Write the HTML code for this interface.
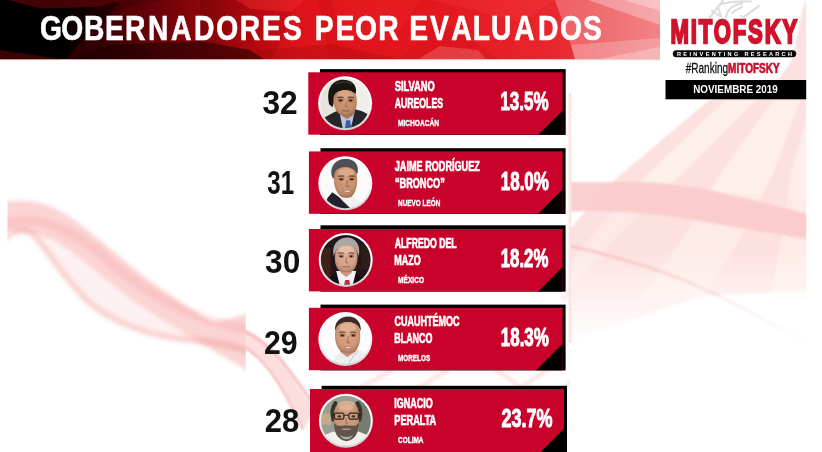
<!DOCTYPE html>
<html lang="es">
<head>
<meta charset="utf-8">
<title>Gobernadores peor evaluados</title>
<style>
html,body{margin:0;padding:0;background:#fff;}
body{width:822px;height:452px;overflow:hidden;position:relative;font-family:"Liberation Sans",sans-serif;}
main.slide{position:absolute;left:0;top:0;width:822px;height:452px;overflow:hidden;background:#fff;}
ol,li{margin:0;padding:0;list-style:none;}
svg{position:absolute;left:0;top:0;display:block;pointer-events:none;}
svg text{opacity:.999;}
text{font-family:"Liberation Sans",sans-serif;font-weight:bold;}
.rg{font-weight:normal;}
</style>
</head>
<body>
<main class="slide">
<svg class="bg" width="822" height="452" viewBox="0 0 822 452">
<defs>
<linearGradient id="bn" x1="0" y1="0" x2="660" y2="0" gradientUnits="userSpaceOnUse">
<stop offset="0.0000" stop-color="#000000"/>
<stop offset="0.0909" stop-color="#020000"/>
<stop offset="0.1515" stop-color="#1c0001"/>
<stop offset="0.2121" stop-color="#3c0104"/>
<stop offset="0.2727" stop-color="#650307"/>
<stop offset="0.3333" stop-color="#90060b"/>
<stop offset="0.3939" stop-color="#b8090f"/>
<stop offset="0.4545" stop-color="#d40e16"/>
<stop offset="0.5303" stop-color="#e0121a"/>
<stop offset="0.6818" stop-color="#e4181f"/>
<stop offset="0.8333" stop-color="#e8262d"/>
<stop offset="0.9091" stop-color="#ea3a40"/>
<stop offset="1.0000" stop-color="#ee585c"/>
</linearGradient>
<radialGradient id="skin" cx="0.5" cy="0.42" r="0.62"><stop offset="0" stop-color="#ffe0c8" stop-opacity="0.28"/><stop offset="0.55" stop-color="#c08060" stop-opacity="0"/><stop offset="1" stop-color="#5a2a18" stop-opacity="0.55"/></radialGradient>
<linearGradient id="ring" x1="0" y1="0" x2="0" y2="1"><stop offset="0" stop-color="#ffffff"/><stop offset="0.6" stop-color="#f4f4f4"/><stop offset="1" stop-color="#cfcfcf"/></linearGradient>
<filter id="b05" x="-10%" y="-10%" width="120%" height="120%"><feGaussianBlur stdDeviation="0.5"/></filter>
<filter id="b09" x="-10%" y="-10%" width="120%" height="120%"><feGaussianBlur stdDeviation="0.65"/></filter>
<filter id="b1" x="-20%" y="-20%" width="140%" height="140%"><feGaussianBlur stdDeviation="1"/></filter>
<filter id="b2" x="-20%" y="-20%" width="140%" height="140%"><feGaussianBlur stdDeviation="2"/></filter>
<filter id="b4" x="-20%" y="-20%" width="140%" height="140%"><feGaussianBlur stdDeviation="4"/></filter>
<clipPath id="c0"><circle cx="345.1" cy="103.3" r="24.9"/></clipPath>
<clipPath id="c1"><circle cx="345.3" cy="183.3" r="24.9"/></clipPath>
<clipPath id="c2"><circle cx="345.7" cy="259.9" r="24.9"/></clipPath>
<clipPath id="c3"><circle cx="345.3" cy="339.1" r="24.9"/></clipPath>
<clipPath id="c4"><circle cx="345.9" cy="420.7" r="24.9"/></clipPath>
</defs>
<g id="bg">
<clipPath id="clL"><rect x="7.5" y="60" width="238.2" height="392"/></clipPath>
<clipPath id="clM"><rect x="245.7" y="60" width="324" height="392"/></clipPath>
<clipPath id="clR"><path d="M569.5,60 H661 V0 H806.2 V452 H569.5 Z"/></clipPath>
<linearGradient id="fadeR" x1="0" y1="250" x2="0" y2="342" gradientUnits="userSpaceOnUse">
<stop offset="0" stop-color="#fff" stop-opacity="0"/><stop offset="1" stop-color="#fff" stop-opacity="1"/>
</linearGradient>
<g clip-path="url(#clL)">
<path d="M0,203 C 25,197 48,201 73,219 C 100,238 130,268 166,292 C 190,308 205,318 214,322 C 225,320 236,317 250,313 L250,372 C 215,352 185,334 150,312 C 120,292 95,270 73,253 C 50,236 30,228 0,233 Z" fill="#ee3a3a" opacity="0.22" filter="url(#b2)"/>
<path d="M30,232 C 50,236 73,253 95,270 C 120,292 150,312 185,334 L 200,341 C 150,338 110,322 85,299 C 65,278 50,255 37,239 Z" fill="#ee3a3a" opacity="0.07" filter="url(#b2)"/>
<path d="M0,226 C 30,212 70,225 110,262 C 150,296 190,320 250,330" fill="none" stroke="#ee3a3a" stroke-width="9" opacity="0.1" filter="url(#b2)"/>
<path d="M0,244 C 18,224 30,230 37,239 C 50,255 65,278 85,299 C 110,322 150,338 200,341 C 220,342 235,346 250,352" fill="none" stroke="#e84848" stroke-width="6.5" opacity="0.2" filter="url(#b2)"/>
</g>
<g clip-path="url(#clM)">
<path d="M240,329 C 256,335 268,345 280,360 C 292,376 302,392 315,410 L 303,430 C 294,410 284,392 274,377 C 264,362 252,352 240,345 Z" fill="#ee3a3a" opacity="0.16" filter="url(#b1)"/>
<path d="M240,329 C 256,335 270,346 283,362 C 295,378 305,392 318,410" fill="none" stroke="#e84848" stroke-width="3" opacity="0.32" filter="url(#b1)"/>
<path d="M240,344 C 252,351 264,362 274,377 C 284,392 294,410 303,430" fill="none" stroke="#e84848" stroke-width="2.5" opacity="0.26" filter="url(#b1)"/>
<path d="M360,388 L392,370 M418,388 L448,370 M496,370 L522,388 M520,388 L556,364" fill="none" stroke="#ee5050" stroke-width="5" opacity="0.13" filter="url(#b1)"/>
<path d="M562,300 L580,280 M560,392 L580,372" fill="none" stroke="#ee5050" stroke-width="5" opacity="0.1" filter="url(#b1)"/>
</g>
<g clip-path="url(#clR)">
<!-- diagonal pink field -->
<path d="M540,352 L540,262 L612,182 L708.5,100.5 L778,80 L792,60 L803,8 L806,0 L830,0 L830,290 L700,296 Z" fill="#f04a4a" opacity="0.16" filter="url(#b1)"/>
<!-- cream strips -->
<polygon points="726,100 756,100 685,170 660,195 627,195 652,170" fill="#fff6ee" opacity="0.7" filter="url(#b1)"/>
<polygon points="774,100 800,100 774,170 762,195 708,195 723,170" fill="#fff6ee" opacity="0.7" filter="url(#b1)"/>
<polygon points="812,100 830,100 830,200 788,200 791.6,170" fill="#fff6ee" opacity="0.6" filter="url(#b1)"/>
<polygon points="660,195 614,240 560,300 540,300 600,226 627,195" fill="#fff6ee" opacity="0.4" filter="url(#b1)"/>
<polygon points="762,195 740,240 700,300 640,300 690,226 708,195" fill="#fff6ee" opacity="0.45" filter="url(#b1)"/>
<polygon points="788,200 830,200 830,300 770,300 784,226" fill="#fff6ee" opacity="0.5" filter="url(#b1)"/>
<!-- horizontal ribbon -->
<path d="M560,182 L640,182 C 670,183 700,188 714,191 C 740,197 775,205 830,220 L830,243 C 790,236 750,230 714,223.6 C 690,219 670,216 655,214.7 C 630,212 600,210 560,212 Z" fill="#fac9c9" opacity="0.88" filter="url(#b1)"/>
<!-- thin lower curve -->
<path d="M560,244 C 600,252 640,264 668,274 C 720,294 770,322 830,356" fill="none" stroke="#ee5050" stroke-width="3" opacity="0.2" filter="url(#b1)"/>
<rect x="560" y="250" width="270" height="130" fill="url(#fadeR)"/>
</g>
<rect x="568.6" y="93" width="2.6" height="250" fill="#fde4e0"/>
</g>

</svg>
<header class="banner">
<svg width="822" height="452" viewBox="0 0 822 452">
<rect x="0" y="0" width="660" height="59.3" fill="url(#bn)"/>
<polygon points="8,0 124,0 98,7 40,8.5" fill="#5a0408" opacity="0.75"/>
<polygon points="0,50 62,59.3 0,59.3" fill="#4a0306" opacity="0.8"/>
<polygon points="120,0 200,0 200,59.3 66,59.3 84,38 104,22" fill="#c00810" opacity="0.16"/>
<polygon points="122,8 165,0 200,0 200,40 150,52 118,30" fill="#ff2020" opacity="0.07"/>
<polygon points="236,0 304,0 292,12 250,9" fill="#ff3a3a" opacity="0.35"/>
<polygon points="272,59.3 300,0 318,0 330,59.3" fill="#ff2a2a" opacity="0.22"/>
<polygon points="160,59.3 330,44 400,59.3" fill="#7a0008" opacity="0.18"/>
<polygon points="330,0 420,0 400,30 345,38" fill="#ff4040" opacity="0.14"/>
<polygon points="400,59.3 440,20 500,59.3" fill="#b00010" opacity="0.12"/>
<polygon points="430,0 555,0 520,22" fill="#ff5a5a" opacity="0.16"/>
<polygon points="555,0 660,0 660,59.3 575,59.3 571,45" fill="#fff" opacity="0.26"/>
<polygon points="588,0 660,0 660,25" fill="#fff" opacity="0.3"/>
<polygon points="624,0 660,0 660,11" fill="#fff" opacity="0.3"/>
<polygon points="571,45 660,38 660,59.3 575,59.3" fill="#fff" opacity="0.22"/>
<polygon points="598,59.3 660,47 660,59.3" fill="#fff" opacity="0.25"/>
<polygon points="72,59.3 108,45 200,41 250,50 264,59.3" fill="#120000" opacity="0.5"/>
<polygon points="418,59.3 440,46 478,50 486,59.3" fill="#ffb0b0" opacity="0.25"/>

<rect x="0" y="59.3" width="660" height="1" fill="#f4c8c8" opacity="0.5"/>
<text transform="scale(0.8,1)" x="49.9 76.5 105.1 131.4 156.4 185.0 213.8 242.6 270.2 299.6 327.5 353.8 379.1 393.4 419.5 443.7 472.8 500.4 511.5 537.4 564.0 590.9 613.8 642.8 672.4 699.9 728.9" y="39.9" font-size="35.3" fill="#fff" stroke="#fff" stroke-width="0.6">GOBERNADORES PEOR EVALUADOS</text>
</svg>
</header>
<aside class="logo">
<svg width="822" height="452" viewBox="0 0 822 452">
<path d="M709.5,17.8 L718,7 L723,0.5 M712,11 L721,16.5 L718,7 M722,4 C730,1.5 740,1 751,1.5 M726,17 C727,10 733,5 742,3.5 M732,13 C735,10 738,9 742,7 M741,16 L744,17 L759,6" fill="none" stroke="#dedede" stroke-width="2.2" filter="url(#b05)" stroke-linecap="round" stroke-linejoin="round"/>
<text x="670.48" y="43.4" font-size="33.6" fill="#d0142c" textLength="128.57" lengthAdjust="spacingAndGlyphs" letter-spacing="2.8" stroke="#d0142c" stroke-width="2.3">MITOFSKY</text>
<rect x="672.8" y="50.3" width="123.4" height="7" rx="3.5" fill="#0a0a0a"/>
<text x="677" y="56.1" font-size="5.6" fill="#fff" textLength="115" lengthAdjust="spacing">REINVENTING RESEARCH</text>
<text x="685.71" y="73.1" font-size="14.2" fill="#111" textLength="42.39" lengthAdjust="spacingAndGlyphs" class="rg" stroke="#111" stroke-width="0.3">#Ranking</text>
<text x="728.08" y="73.0" font-size="14.0" fill="#c8102e" textLength="51.53" lengthAdjust="spacingAndGlyphs" stroke="#c8102e" stroke-width="0.7">MITOFSKY</text>
<rect x="665.5" y="80" width="140.7" height="19.3" fill="#000"/>
<text x="693.24" y="93.4" font-size="11.4" fill="#fff" textLength="84.43" lengthAdjust="spacingAndGlyphs">NOVIEMBRE 2019</text>
</svg>
</aside>
<ol class="ranking">
<li class="card">
<svg width="822" height="452" viewBox="0 0 822 452">
<rect x="319.9" y="69.1" width="245.8" height="65.8" fill="#000"/>
<rect x="308.3" y="72.3" width="254.4" height="62.4" fill="#c9022b"/>
<path d="M538.4,134.7 L562.7,110.4 L562.7,134.7 Z" fill="#000"/>
<text x="262.47" y="113.8" font-size="33" fill="#111" textLength="35.30" lengthAdjust="spacingAndGlyphs">32</text>
<circle cx="345.1" cy="103.3" r="27" fill="url(#ring)"/>
<g clip-path="url(#c0)"><g transform="translate(345.1,103.3)" filter="url(#b09)">
<rect x="-27" y="-27" width="54" height="54" fill="#e7e4de"/>
<rect x="8" y="-27" width="19" height="54" fill="#f0eee9"/>
<path d="M-27,27 L-22,15 L-11,9 L-4,6 L2,20 L10,6 L17,8 L25,12 L27,27 Z" fill="#25252b"/>
<path d="M-6,7 L10,6 L7,20 L5,27 L-2,27 Z" fill="#b7c6e4"/>
<path d="M1,17 L5,17 L6.5,27 L-0.5,27 Z" fill="#3f5c9c"/>
<path d="M-6,4 L9,4 L8,12 L2,16 L-4,12 Z" fill="#b07a5a"/>
<path d="M-16,1 C-19,-12 -15,-22 -4,-23.5 C5,-24 10.5,-20 11,-13 L10.5,-9 C5,-14.5 -6,-14 -10,-9 L-11,-2 L-12.5,4 Z" fill="#17120f"/>
<path d="M-10,-19 C-5,-22 3,-22 7,-19" stroke="#4a4038" stroke-width="1.6" fill="none" opacity="0.7"/>
<path d="M-11.5,-6 C-10.5,-14.5 9,-15 11,-7 C12.3,-1 11.8,5 8.5,10 C5.5,13.8 -2,13.8 -6,10.5 C-10.5,6.5 -12.3,0 -11.5,-6 Z" fill="#c58e6c"/>
<ellipse cx="0.5" cy="-9" rx="8.5" ry="4" fill="#dfae8e" opacity="0.75"/>
<path d="M-11.5,-6 C-10.5,-14.5 9,-15 11,-7 C12.3,-1 11.8,5 8.5,10 C5.5,13.8 -2,13.8 -6,10.5 C-10.5,6.5 -12.3,0 -11.5,-6 Z" fill="url(#skin)" opacity="0.9"/>
<ellipse cx="-4.5" cy="-3" rx="3" ry="1.7" fill="#7a3c20" opacity="0.45"/>
<ellipse cx="5.5" cy="-3" rx="3" ry="1.7" fill="#7a3c20" opacity="0.45"/>
<ellipse cx="-4.5" cy="-2.8" rx="1.5" ry="0.9" fill="#1a100c" opacity="0.85"/>
<ellipse cx="5.5" cy="-2.8" rx="1.5" ry="0.9" fill="#1a100c" opacity="0.85"/>
<path d="M-7.5,-5.6 Q-4.5,-6.8 -1.5,-5.8 M2.5,-5.8 Q5.5,-6.8 8.5,-5.6" stroke="#2a1a12" stroke-width="1.1" fill="none" opacity="0.85"/>
<path d="M1,-2 L0.4,3 L2.8,3.6" stroke="#7a3c20" stroke-width="1.3" fill="none" opacity="0.4"/>
<path d="M-3,7.2 Q0.75,8.1 4.5,7.2" stroke="#8a5a48" stroke-width="1.1" fill="none"/>
</g></g>
<text x="394.69" y="90.6" font-size="14.2" fill="#fff" textLength="40.04" lengthAdjust="spacingAndGlyphs" stroke="#fff" stroke-width="0.7">SILVANO</text>
<text x="394.73" y="108.3" font-size="14.2" fill="#fff" textLength="48.26" lengthAdjust="spacingAndGlyphs" stroke="#fff" stroke-width="0.7">AUREOLES</text>
<text x="397.98" y="125.9" font-size="9.9" fill="#fff" textLength="41.14" lengthAdjust="spacingAndGlyphs" stroke="#fff" stroke-width="0.45">MICHOACÁN</text>
<text x="500.33" y="109.7" font-size="25.6" fill="#fff" textLength="48.32" lengthAdjust="spacingAndGlyphs" stroke="#fff" stroke-width="1.0">13.5%</text>
</svg>
</li>
<li class="card">
<svg width="822" height="452" viewBox="0 0 822 452">
<rect x="320.5" y="148.2" width="245.1" height="65.8" fill="#000"/>
<rect x="308.9" y="151.4" width="253.7" height="62.4" fill="#c9022b"/>
<path d="M538.3,213.8 L562.6,189.5 L562.6,213.8 Z" fill="#000"/>
<text x="267.35" y="194.2" font-size="33" fill="#111" textLength="26.82" lengthAdjust="spacingAndGlyphs">31</text>
<circle cx="345.3" cy="183.3" r="27" fill="url(#ring)"/>
<g clip-path="url(#c1)"><g transform="translate(345.3,183.3)" filter="url(#b09)">
<rect x="-27" y="-27" width="54" height="54" fill="#fafafa"/>
<path d="M-21,27 L-18,15 L-13,9 L-6,14 L4,24 L8,27 Z" fill="#23242e"/>
<path d="M5,27 L11,22 L17,25 L15,27 Z" fill="#2c2d38"/>
<path d="M-9,10 L6,12 L19,21 L14,27 L8,27 L-2,18 Z" fill="#f1f1f3"/>
<path d="M-9,5 L7,7 L6,14 L-4,14 Z" fill="#b98262"/>
<path d="M-13,-6 C-16.5,-16 -10,-24 0,-24.5 C9,-24.5 13.5,-19 12.5,-11 L11.5,-9 C8,-17 -5,-18 -9.5,-12 L-11,-4 Z" fill="#505054"/>
<path d="M-11.2,-8 C-10,-19 10,-19 11.5,-8 C12.5,-1 11.5,7 7.5,12 C4.5,15.5 -3,15 -6.5,11 C-10,7 -12,0 -11.2,-8 Z" fill="#c9926f"/>
<ellipse cx="1" cy="-11" rx="8.5" ry="4.2" fill="#e2b292" opacity="0.75"/>
<path d="M-11.2,-8 C-10,-19 10,-19 11.5,-8 C12.5,-1 11.5,7 7.5,12 C4.5,15.5 -3,15 -6.5,11 C-10,7 -12,0 -11.2,-8 Z" fill="url(#skin)" opacity="0.9"/>
<ellipse cx="-4" cy="-4.2" rx="3" ry="1.7" fill="#7a3c20" opacity="0.45"/>
<ellipse cx="6.5" cy="-4.2" rx="3" ry="1.7" fill="#7a3c20" opacity="0.45"/>
<ellipse cx="-4" cy="-4.0" rx="1.5" ry="0.9" fill="#1a100c" opacity="0.85"/>
<ellipse cx="6.5" cy="-4.0" rx="1.5" ry="0.9" fill="#1a100c" opacity="0.85"/>
<path d="M-7,-6.800000000000001 Q-4,-8.0 -1,-7.0 M3.5,-7.0 Q6.5,-8.0 9.5,-6.800000000000001" stroke="#4a3a32" stroke-width="1.1" fill="none" opacity="0.85"/>
<path d="M2,-3.2 L1.4,3 L3.8,3.6" stroke="#7a3c20" stroke-width="1.3" fill="none" opacity="0.4"/>
<path d="M-2.5,7.3 Q2.0,10.7 6.5,7.3 Q2.0,7.7 -2.5,7.3 Z" fill="#fffaf6" stroke="#8a5a48" stroke-width="0.4"/>
</g></g>
<text x="394.81" y="171.3" font-size="14.2" fill="#fff" textLength="85.00" lengthAdjust="spacingAndGlyphs" stroke="#fff" stroke-width="0.7">JAIME RODRÍGUEZ</text>
<text x="394.98" y="188.4" font-size="14.2" fill="#fff" textLength="49.75" lengthAdjust="spacingAndGlyphs" stroke="#fff" stroke-width="0.7">“BRONCO”</text>
<text x="398.10" y="205.6" font-size="9.9" fill="#fff" textLength="42.21" lengthAdjust="spacingAndGlyphs" stroke="#fff" stroke-width="0.45">NUEVO LEÓN</text>
<text x="500.73" y="190.1" font-size="25.6" fill="#fff" textLength="48.22" lengthAdjust="spacingAndGlyphs" stroke="#fff" stroke-width="1.0">18.0%</text>
</svg>
</li>
<li class="card">
<svg width="822" height="452" viewBox="0 0 822 452">
<rect x="320.5" y="225.3" width="245.1" height="66.3" fill="#000"/>
<rect x="308.9" y="229.0" width="253.7" height="62.4" fill="#c9022b"/>
<path d="M538.3,291.4 L562.6,267.1 L562.6,291.4 Z" fill="#000"/>
<text x="265.07" y="272.7" font-size="33" fill="#111" textLength="35.23" lengthAdjust="spacingAndGlyphs">30</text>
<circle cx="345.7" cy="259.9" r="27" fill="url(#ring)"/>
<g clip-path="url(#c2)"><g transform="translate(345.7,259.9)" filter="url(#b09)">
<rect x="-27" y="-27" width="54" height="54" fill="#24161a"/>
<rect x="-27" y="-12" width="12" height="30" fill="#3c2218"/>
<rect x="15" y="-16" width="12" height="26" fill="#2e1a16"/>
<path d="M-23,27 L-15,16 L-9,12 L0,24 L9,12 L15,16 L23,27 Z" fill="#131117"/>
<path d="M-9.5,11 L10.5,11 L6.5,27 L-5.5,27 Z" fill="#f3f1f5"/>
<path d="M-0.5,20 L3.5,20 L5,27 L-2,27 Z" fill="#b8323e"/>
<path d="M-6,6 L7,6 L6,13 L0.5,17 L-5,13 Z" fill="#c89a82"/>
<path d="M-12,-4 C-14.5,-15 -8,-22 1,-22.5 C10,-22.5 15.5,-15 13,-4 L11.5,-8 C8,-16.5 -6,-16.5 -10.5,-8 Z" fill="#a9a7a5"/>
<path d="M-10.5,-7 C-9,-17.5 10,-17.5 11.5,-7 C12.5,0 11,7 7.5,10.5 C4.5,13 -3.5,13 -6.5,10.5 C-10.5,7 -11.5,0 -10.5,-7 Z" fill="#d5a68e"/>
<ellipse cx="0.5" cy="-10.5" rx="8" ry="4" fill="#ecc8b4" opacity="0.75"/>
<path d="M-10.5,-7 C-9,-17.5 10,-17.5 11.5,-7 C12.5,0 11,7 7.5,10.5 C4.5,13 -3.5,13 -6.5,10.5 C-10.5,7 -11.5,0 -10.5,-7 Z" fill="url(#skin)" opacity="0.9"/>
<ellipse cx="-4.5" cy="-3.8" rx="3" ry="1.7" fill="#7a3c20" opacity="0.45"/>
<ellipse cx="5.5" cy="-3.8" rx="3" ry="1.7" fill="#7a3c20" opacity="0.45"/>
<ellipse cx="-4.5" cy="-3.5999999999999996" rx="1.5" ry="0.9" fill="#1a100c" opacity="0.85"/>
<ellipse cx="5.5" cy="-3.5999999999999996" rx="1.5" ry="0.9" fill="#1a100c" opacity="0.85"/>
<path d="M-7.5,-6.4 Q-4.5,-7.6 -1.5,-6.6 M2.5,-6.6 Q5.5,-7.6 8.5,-6.4" stroke="#5a4640" stroke-width="1.1" fill="none" opacity="0.85"/>
<path d="M0.8,-2.8 L0.20000000000000007,2.6 L2.6,3.2" stroke="#7a3c20" stroke-width="1.3" fill="none" opacity="0.4"/>
<path d="M-3,6.6 Q0.75,7.5 4.5,6.6" stroke="#9a5a54" stroke-width="1.1" fill="none"/>
</g></g>
<text x="394.73" y="248.1" font-size="14.2" fill="#fff" textLength="61.88" lengthAdjust="spacingAndGlyphs" stroke="#fff" stroke-width="0.7">ALFREDO DEL</text>
<text x="394.35" y="265.0" font-size="14.2" fill="#fff" textLength="26.38" lengthAdjust="spacingAndGlyphs" stroke="#fff" stroke-width="0.7">MAZO</text>
<text x="398.08" y="282.5" font-size="9.9" fill="#fff" textLength="25.97" lengthAdjust="spacingAndGlyphs" stroke="#fff" stroke-width="0.45">MÉXICO</text>
<text x="500.74" y="266.8" font-size="25.6" fill="#fff" textLength="47.70" lengthAdjust="spacingAndGlyphs" stroke="#fff" stroke-width="1.0">18.2%</text>
</svg>
</li>
<li class="card">
<svg width="822" height="452" viewBox="0 0 822 452">
<rect x="320.5" y="304.6" width="245.1" height="65.8" fill="#000"/>
<rect x="308.9" y="307.8" width="253.7" height="62.4" fill="#c9022b"/>
<path d="M536.1,370.2 L562.6,343.7 L562.6,370.2 Z" fill="#000"/>
<text x="263.95" y="353.5" font-size="33" fill="#111" textLength="33.67" lengthAdjust="spacingAndGlyphs">29</text>
<circle cx="345.3" cy="339.1" r="27" fill="url(#ring)"/>
<g clip-path="url(#c3)"><g transform="translate(345.3,339.1)" filter="url(#b09)">
<rect x="-27" y="-27" width="54" height="54" fill="#fcfcfc"/>
<path d="M-13,27 L-10,17 L-4,13 L11,9 L19,14 L25,27 Z" fill="#eeeeef"/>
<path d="M2,27 L8,17 L13,12" stroke="#d2d2d6" stroke-width="1.2" fill="none"/>
<path d="M-6,6 L10,4 L11,12 L2,18 L-5,13 Z" fill="#c48e70"/>
<path d="M-10,-8 C-11.5,-17 -5,-22.5 3,-22.5 C11,-22.5 16,-17 15.5,-8 L14.5,-10 C11,-19 -4,-19 -8.5,-11 Z" fill="#3a2c28"/>
<path d="M-10,-8 C-9,-20 13.5,-20 14.7,-8 C15.5,-1 14.5,7 10.5,11.5 C7,15 -1,15 -5,11.5 C-9.5,7 -11,-1 -10,-8 Z" fill="#d39c7e"/>
<ellipse cx="2.5" cy="-12" rx="9" ry="4.5" fill="#e6b89a" opacity="0.8"/>
<path d="M-10,-8 C-9,-20 13.5,-20 14.7,-8 C15.5,-1 14.5,7 10.5,11.5 C7,15 -1,15 -5,11.5 C-9.5,7 -11,-1 -10,-8 Z" fill="url(#skin)" opacity="0.9"/>
<ellipse cx="-3" cy="-3.8" rx="3" ry="1.7" fill="#7a3c20" opacity="0.45"/>
<ellipse cx="8" cy="-3.8" rx="3" ry="1.7" fill="#7a3c20" opacity="0.45"/>
<ellipse cx="-3" cy="-3.5999999999999996" rx="1.5" ry="0.9" fill="#1a100c" opacity="0.85"/>
<ellipse cx="8" cy="-3.5999999999999996" rx="1.5" ry="0.9" fill="#1a100c" opacity="0.85"/>
<path d="M-6,-6.4 Q-3,-7.6 0,-6.6 M5,-6.6 Q8,-7.6 11,-6.4" stroke="#4a3a32" stroke-width="1.1" fill="none" opacity="0.85"/>
<path d="M2.8,-2.8 L2.1999999999999997,3.4 L4.6,4.0" stroke="#7a3c20" stroke-width="1.3" fill="none" opacity="0.4"/>
<path d="M-1.5,7.4 Q3.0,10.8 7.5,7.4 Q3.0,7.800000000000001 -1.5,7.4 Z" fill="#fffaf6" stroke="#8a5a48" stroke-width="0.4"/>
</g></g>
<text x="394.58" y="326.4" font-size="14.2" fill="#fff" textLength="65.02" lengthAdjust="spacingAndGlyphs" stroke="#fff" stroke-width="0.7">CUAUHTÉMOC</text>
<text x="394.36" y="343.4" font-size="14.2" fill="#fff" textLength="37.97" lengthAdjust="spacingAndGlyphs" stroke="#fff" stroke-width="0.7">BLANCO</text>
<text x="398.10" y="361.3" font-size="9.9" fill="#fff" textLength="32.02" lengthAdjust="spacingAndGlyphs" stroke="#fff" stroke-width="0.45">MORELOS</text>
<text x="500.73" y="345.6" font-size="25.6" fill="#fff" textLength="48.22" lengthAdjust="spacingAndGlyphs" stroke="#fff" stroke-width="1.0">18.3%</text>
</svg>
</li>
<li class="card">
<svg width="822" height="452" viewBox="0 0 822 452">
<rect x="321.6" y="385.8" width="245.4" height="67.4" fill="#000"/>
<rect x="310.0" y="389.0" width="254.0" height="64.0" fill="#c9022b"/>
<path d="M539.7,453.0 L564.0,428.7 L564.0,453.0 Z" fill="#000"/>
<text x="264.72" y="432.2" font-size="33" fill="#111" textLength="34.53" lengthAdjust="spacingAndGlyphs">28</text>
<circle cx="345.9" cy="420.7" r="27" fill="url(#ring)"/>
<g clip-path="url(#c4)"><g transform="translate(345.9,420.7)" filter="url(#b09)">
<rect x="-27" y="-27" width="54" height="54" fill="#989e90"/>
<rect x="-27" y="-7" width="12" height="11" fill="#c2ac88"/>
<rect x="13" y="-27" width="14" height="42" fill="#747c70"/>
<path d="M-27,27 L-26,16 L-13,11 L13,11 L26,16 L27,27 Z" fill="#f4f2ee"/>
<path d="M-12.5,-1 C-14.5,-8 -13.5,-13 -10.5,-17.5" fill="none" stroke="#3a302a" stroke-width="4" stroke-linecap="round"/>
<path d="M13.5,-1 C15.5,-8 14.5,-13 11.5,-17.5" fill="none" stroke="#3a302a" stroke-width="4" stroke-linecap="round"/>
<path d="M-12,-6 C-12.5,-22 13,-22 13,-6 C13.5,0 12.5,8 8.5,13 C5,17 -4,17 -7.5,13 C-11.5,8 -12.5,0 -12,-6 Z" fill="#c99a7c"/>
<ellipse cx="0.5" cy="-15" rx="8.5" ry="5" fill="#e0b69a" opacity="0.85"/>
<path d="M-12,-6 C-12.5,-22 13,-22 13,-6 C13.5,0 12.5,8 8.5,13 C5,17 -4,17 -7.5,13 C-11.5,8 -12.5,0 -12,-6 Z" fill="url(#skin)" opacity="0.8"/>
<ellipse cx="-6.5" cy="-4.3" rx="2" ry="1.1" fill="#1a100c" opacity="0.8"/>
<ellipse cx="7.5" cy="-4.3" rx="2" ry="1.1" fill="#1a100c" opacity="0.8"/>
<path d="M0.5,-3 L0,2 L2.2,2.6" stroke="#7a3c20" stroke-width="1.3" fill="none" opacity="0.4"/>
<path d="M-12,2 C-12,12 -8,19.5 0.5,20.5 C9,19.5 13,12 13,2 C10,6.5 6,5 0.5,4.5 C-5,5 -9,6.5 -12,2 Z" fill="#5e544e"/>
<path d="M-6,14 C-4,20 5,20 7,14 C4,17 -3,17 -6,14 Z" fill="#b0aca8"/>
<path d="M-3.5,8.5 L4.5,8.5" stroke="#caa292" stroke-width="1.3" fill="none"/>
<rect x="-11.5" y="-7.5" width="9.5" height="6" rx="1.6" fill="none" stroke="#2a2220" stroke-width="1.2"/>
<rect x="3" y="-7.5" width="9.5" height="6" rx="1.6" fill="none" stroke="#2a2220" stroke-width="1.2"/>
<path d="M-2,-5.5 L3,-5.5 M-11.5,-5.5 L-13.5,-6 M12.5,-5.5 L14.5,-6" stroke="#2a2220" stroke-width="1"/>
</g></g>
<text x="394.35" y="408.2" font-size="14.2" fill="#fff" textLength="38.48" lengthAdjust="spacingAndGlyphs" stroke="#fff" stroke-width="0.7">IGNACIO</text>
<text x="394.36" y="425.3" font-size="14.2" fill="#fff" textLength="41.83" lengthAdjust="spacingAndGlyphs" stroke="#fff" stroke-width="0.7">PERALTA</text>
<text x="398.06" y="443.3" font-size="9.9" fill="#fff" textLength="25.38" lengthAdjust="spacingAndGlyphs" stroke="#fff" stroke-width="0.45">COLIMA</text>
<text x="501.38" y="427.4" font-size="25.6" fill="#fff" textLength="51.00" lengthAdjust="spacingAndGlyphs" stroke="#fff" stroke-width="1.0">23.7%</text>
</svg>
</li>
</ol>
</main>
</body>
</html>
